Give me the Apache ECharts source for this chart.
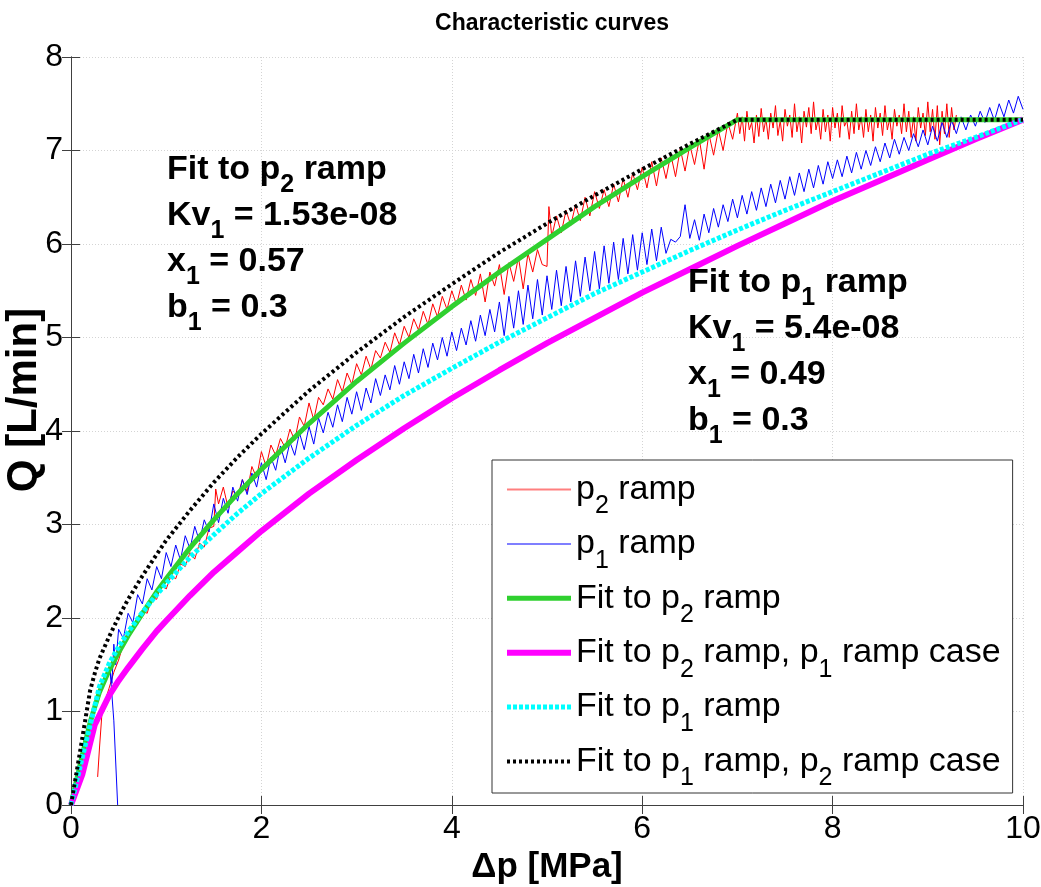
<!DOCTYPE html>
<html>
<head>
<meta charset="utf-8">
<title>Characteristic curves</title>
<script src="https://cdn.jsdelivr.net/npm/echarts@6/dist/echarts.min.js"></script>
<style>
    html, body { margin: 0; padding: 0; background: #fff; }
    #chart { width: 1041px; height: 887px; }
</style>
</head>
<body>
<div id="chart"></div>
<script>
    // measured p2 ramp (red), rising part
    var p2RampDp = [0.28,0.30,0.33,0.36,0.40,0.45,0.50,0.55,0.60,0.65,0.70,0.75,0.80,0.85,0.90,0.95,1.00,1.05,1.10,1.15,1.20,1.25,1.30,1.35,1.40,1.45,1.50,1.52,1.55,1.60,1.65,1.70,1.75,1.80,1.85,1.90,1.95,2.00,2.05,2.10,2.15,2.20,2.25,2.30,2.35,2.40,2.45,2.50,2.55,2.60,2.65,2.70,2.75,2.80,2.85,2.90,2.95,3.00,3.05,3.10,3.15,3.20,3.25,3.30,3.35,3.40,3.45,3.50,3.55,3.60,3.65,3.70,3.75,3.80,3.85,3.90,3.95,4.00,4.05,4.10,4.15,4.20,4.25,4.30,4.35,4.40,4.45,4.50,4.55,4.60,4.65,4.70,4.75,4.80,4.85,4.90,4.95,5.00,5.02,5.05,5.10,5.15,5.20,5.25,5.30,5.35,5.40,5.45,5.50,5.55,5.60,5.65,5.70,5.75,5.80,5.85,5.90,5.95,6.00,6.05,6.10,6.15,6.20,6.25,6.30,6.35,6.40,6.45,6.50,6.55,6.60,6.65,6.70,6.75,6.80,6.85,6.90,6.95];
    var p2RampQ = [0.30,0.62,1.05,1.12,1.25,1.42,1.55,1.72,1.80,1.92,1.93,2.08,2.05,2.22,2.20,2.36,2.31,2.45,2.42,2.58,2.55,2.70,2.63,2.80,2.76,2.96,2.98,3.38,3.22,3.40,3.18,3.36,3.30,3.48,3.35,3.62,3.50,3.78,3.62,3.85,3.74,3.92,3.82,4.02,3.90,4.15,4.05,4.30,4.12,4.36,4.28,4.45,4.34,4.55,4.42,4.62,4.50,4.72,4.60,4.80,4.66,4.86,4.78,4.95,4.84,5.05,4.92,5.12,5.00,5.20,5.08,5.28,5.14,5.36,5.22,5.44,5.30,5.50,5.35,5.56,5.40,5.62,5.45,5.68,5.38,5.70,5.55,5.78,5.46,5.80,5.60,5.86,5.52,5.90,5.70,5.94,5.78,5.76,6.40,6.08,6.30,6.12,6.36,6.20,6.42,6.25,6.50,6.30,6.56,6.38,6.58,6.40,6.64,6.45,6.70,6.50,6.76,6.58,6.82,6.60,6.88,6.62,6.92,6.70,6.96,6.72,7.02,6.78,7.06,6.85,7.12,6.80,7.18,6.95,7.22,7.00,7.30,7.12];

    // measured p2 ramp (red), saturated part
    var p2PlateauDp = [7.000,7.025,7.050,7.075,7.100,7.125,7.150,7.175,7.200,7.225,7.250,7.275,7.300,7.325,7.350,7.375,7.400,7.425,7.450,7.475,7.500,7.525,7.550,7.575,7.600,7.625,7.650,7.675,7.700,7.725,7.750,7.775,7.800,7.825,7.850,7.875,7.900,7.925,7.950,7.975,8.000,8.025,8.050,8.075,8.100,8.125,8.150,8.175,8.200,8.225,8.250,8.275,8.300,8.325,8.350,8.375,8.400,8.425,8.450,8.475,8.500,8.525,8.550,8.575,8.600,8.625,8.650,8.675,8.700,8.725,8.750,8.775,8.800,8.825,8.850,8.875,8.900,8.925,8.950,8.975,9.000,9.025,9.050,9.075,9.100,9.125,9.150,9.175,9.200,9.225,9.250,9.275,9.300];
    var p2PlateauQ = [7.40,7.18,7.36,7.10,7.42,7.22,7.30,7.08,7.38,7.15,7.45,7.20,7.34,7.12,7.40,7.24,7.48,7.16,7.32,7.10,7.44,7.26,7.38,7.14,7.50,7.20,7.36,7.08,7.42,7.25,7.46,7.18,7.52,7.22,7.34,7.12,7.44,7.20,7.38,7.10,7.46,7.24,7.40,7.14,7.48,7.26,7.32,7.12,7.42,7.18,7.50,7.22,7.36,7.14,7.44,7.20,7.38,7.10,7.46,7.24,7.40,7.16,7.48,7.22,7.34,7.12,7.44,7.26,7.38,7.18,7.50,7.20,7.42,7.14,7.36,7.10,7.46,7.24,7.40,7.16,7.52,7.20,7.44,7.12,7.48,7.06,7.42,7.18,7.50,7.14,7.46,7.22,7.38];

    // measured p1 ramp (blue)
    var p1RampDp = [0.49,0.45,0.41,0.43,0.45,0.47,0.50,0.55,0.60,0.65,0.70,0.75,0.80,0.85,0.90,0.95,1.00,1.05,1.10,1.15,1.20,1.25,1.30,1.35,1.40,1.45,1.50,1.55,1.60,1.65,1.70,1.75,1.80,1.85,1.90,1.95,2.00,2.05,2.10,2.15,2.20,2.25,2.30,2.35,2.40,2.45,2.50,2.55,2.60,2.65,2.70,2.75,2.80,2.85,2.90,2.95,3.00,3.05,3.10,3.15,3.20,3.25,3.30,3.35,3.40,3.45,3.50,3.55,3.60,3.65,3.70,3.75,3.80,3.85,3.90,3.95,4.00,4.05,4.10,4.15,4.20,4.25,4.30,4.35,4.40,4.45,4.50,4.55,4.60,4.65,4.70,4.75,4.80,4.85,4.90,4.95,5.00,5.05,5.10,5.15,5.20,5.25,5.30,5.35,5.40,5.45,5.50,5.55,5.60,5.65,5.70,5.75,5.80,5.85,5.90,5.95,6.00,6.05,6.10,6.15,6.20,6.25,6.30,6.35,6.40,6.45,6.50,6.55,6.60,6.65,6.70,6.75,6.80,6.85,6.90,6.95,7.00,7.05,7.10,7.15,7.20,7.25,7.30,7.35,7.40,7.45,7.50,7.55,7.60,7.65,7.70,7.75,7.80,7.85,7.90,7.95,8.00,8.05,8.10,8.15,8.20,8.25,8.30,8.35,8.40,8.45,8.50,8.55,8.60,8.65,8.70,8.75,8.80,8.85,8.90,8.95,9.00,9.05,9.10,9.15,9.20,9.25,9.30,9.35,9.40,9.45,9.50,9.55,9.60,9.65,9.70,9.75,9.80,9.85,9.90,9.95,10.00];
    var p1RampQ = [0.00,0.90,1.45,1.30,1.72,1.50,1.88,1.78,2.05,1.95,2.25,2.15,2.42,2.30,2.55,2.42,2.70,2.55,2.78,2.62,2.88,2.74,2.98,2.82,3.05,2.92,3.22,3.02,3.28,3.12,3.40,3.25,3.48,3.32,3.55,3.40,3.66,3.48,3.72,3.58,3.84,3.66,3.88,3.74,3.98,3.80,4.05,3.86,4.14,3.98,4.20,4.04,4.28,4.10,4.36,4.18,4.42,4.22,4.46,4.30,4.56,4.38,4.60,4.44,4.70,4.50,4.74,4.56,4.82,4.62,4.88,4.68,4.94,4.76,5.00,4.80,5.06,4.86,5.10,4.92,5.18,4.96,5.24,5.02,5.30,5.06,5.38,5.02,5.44,5.10,5.50,5.14,5.56,5.20,5.62,5.24,5.66,5.30,5.72,5.34,5.76,5.38,5.82,5.44,5.86,5.50,5.92,5.52,5.98,5.58,6.02,5.62,6.06,5.68,6.10,5.72,6.12,5.78,6.16,5.82,6.18,5.90,6.05,6.02,6.08,6.42,6.06,6.26,6.04,6.32,6.12,6.38,6.18,6.42,6.24,6.48,6.28,6.52,6.32,6.56,6.36,6.60,6.40,6.64,6.44,6.68,6.48,6.72,6.52,6.76,6.56,6.80,6.60,6.84,6.64,6.88,6.70,6.90,6.72,6.94,6.76,6.98,6.80,7.00,6.84,7.04,6.88,7.08,6.92,7.12,6.96,7.14,7.00,7.18,7.04,7.22,7.06,7.26,7.10,7.30,7.14,7.32,7.18,7.36,7.22,7.38,7.26,7.42,7.30,7.46,7.32,7.50,7.36,7.54,7.40,7.58,7.44];

    // fit to p2 ramp (green)
    var fitP2Dp = [0,0.1,0.2,0.25,0.3,0.4,0.5,0.6,0.75,0.9,1,1.25,1.5,1.75,2,2.5,3,3.5,4,4.5,5,5.5,6,6.5,7,8,9,10];
    var fitP2Q  = [0,0.45,0.88,1.05,1.21,1.44,1.63,1.81,2.05,2.28,2.42,2.75,3.05,3.33,3.59,4.08,4.53,4.94,5.33,5.70,6.05,6.40,6.72,7.03,7.33,7.33,7.33,7.33];

    // fit to p2 ramp, p1 ramp case (magenta)
    var fitP2CaseP1Dp = [0,0.12,0.25,0.4,0.5,0.6,0.75,0.9,1,1.25,1.5,1.75,2,2.5,3,3.5,4,4.5,5,5.5,6,6.5,7,7.5,8,8.5,9,9.5,10];
    var fitP2CaseP1Q  = [0,0.33,0.86,1.17,1.33,1.47,1.67,1.86,1.97,2.24,2.49,2.71,2.93,3.33,3.69,4.03,4.35,4.65,4.94,5.21,5.48,5.73,5.98,6.22,6.46,6.68,6.90,7.12,7.33];

    // fit to p1 ramp (cyan)
    var fitP1Dp = [0,0.1,0.2,0.25,0.3,0.4,0.5,0.6,0.75,0.9,1,1.25,1.5,1.75,2,2.5,3,3.5,4,4.5,5,5.5,6,6.5,7,7.5,8,8.5,9,9.5,10];
    var fitP1Q  = [0,0.43,0.85,1.06,1.27,1.51,1.69,1.85,2.06,2.25,2.37,2.65,2.89,3.12,3.33,3.71,4.06,4.38,4.67,4.95,5.21,5.47,5.70,5.93,6.15,6.36,6.56,6.76,6.96,7.14,7.33];

    // fit to p1 ramp, p2 ramp case (black dotted)
    var fitP1CaseP2Dp = [0,0.1,0.2,0.25,0.3,0.4,0.5,0.6,0.75,0.9,1,1.25,1.5,1.75,2,2.5,3,3.5,4,4.5,5,5.5,6,6.5,7,8,9,10];
    var fitP1CaseP2Q  = [0,0.6,1.22,1.41,1.57,1.80,2.01,2.20,2.45,2.68,2.83,3.15,3.45,3.72,3.97,4.43,4.84,5.22,5.57,5.91,6.22,6.52,6.80,7.07,7.33,7.33,7.33,7.33];

    var xTicks = [0, 2, 4, 6, 8, 10];
    var yTicks = [0, 1, 2, 3, 4, 5, 6, 7, 8];

    function zip(xs, ys) {
        return xs.map(function (x, i) { return [x, ys[i]]; });
    }

    var FONT = 'Arial, "Liberation Sans", Helvetica, sans-serif';
    var AXIS_GRAY = '#404040';
    // thin horizontal bar used as legend sample for the raw measurement traces
    var THIN_LINE_ICON = 'path://M0,0L64,0L64,2L0,2Z';

    var chart = echarts.init(document.getElementById('chart'), null, { renderer: 'canvas' });

    function lineSeries(name, data, color, width, dash, z) {
        return {
            name: name, type: 'line', data: data,
            showSymbol: false, symbol: 'none', color: color,
            lineStyle: { color: color, width: width, type: dash || 'solid' },
            z: z
        };
    }

    var series = [
        lineSeries('p2 ramp', zip(p2RampDp, p2RampQ).concat(zip(p2PlateauDp, p2PlateauQ)), '#ff0000', 1, null, 2),
        lineSeries('p1 ramp', zip(p1RampDp, p1RampQ), '#0000ff', 1, null, 3),
        lineSeries('Fit to p2 ramp', zip(fitP2Dp, fitP2Q), '#2fd02f', 5, null, 4),
        lineSeries('Fit to p2 ramp, p1 ramp case', zip(fitP2CaseP1Dp, fitP2CaseP1Q), '#ff00ff', 6, null, 5),
        lineSeries('Fit to p1 ramp', zip(fitP1Dp, fitP1Q), '#00ffff', 5, [4, 2], 6),
        lineSeries('Fit to p1 ramp, p2 ramp case', zip(fitP1CaseP2Dp, fitP1CaseP2Q), '#000000', 4, [3, 3], 7)
    ];

    // legend entries carry their own look so the samples match the curves
    var legendData = series.map(function (s) {
        if (s.lineStyle.width === 1) {
            return {
                name: s.name,
                icon: THIN_LINE_ICON,
                itemStyle: { color: s.lineStyle.color, opacity: 0.5, borderWidth: 0 }
            };
        }
        return {
            name: s.name,
            itemStyle: { opacity: 0 },
            lineStyle: { color: s.lineStyle.color, width: s.lineStyle.width, type: s.lineStyle.type }
        };
    });

    var option = {
        animation: false,
        backgroundColor: '#fff',
        title: {
            text: 'Characteristic curves',
            left: 547,
            textAlign: 'center',
            top: 7,
            textStyle: { fontFamily: FONT, fontSize: 23, fontWeight: 'bold', color: '#000' }
        },
        grid: { left: 71, right: 18, top: 57, bottom: 82, outerBoundsMode: 'none' },
        legend: {
            data: legendData,
            orient: 'vertical',
            left: 492,
            top: 460,
            padding: [0, 12, 2, 12],
            itemGap: -4.6,
            itemWidth: 64,
            itemHeight: 14,
            symbolKeepAspect: true,
            selectedMode: false,
            backgroundColor: '#fff',
            borderColor: '#333',
            borderWidth: 1,
            borderRadius: 0,
            textStyle: {
                fontFamily: FONT, fontSize: 34, color: '#000', lineHeight: 38,
                rich: {
                    s: { fontFamily: FONT, fontSize: 25, color: '#000', padding: [34, 0, 0, 0], lineHeight: 38 }
                }
            },
            formatter: function (name) {
                return name.replace(/p([12])/g, 'p{s|$1}');
            }
        },
        xAxis: [{
            type: 'value', min: 0, max: 10, interval: 2,
            name: 'Δp [MPa]', nameLocation: 'middle', nameGap: 44,
            nameTextStyle: { fontFamily: FONT, fontSize: 35, fontWeight: 'bold', color: '#000' },
            axisLine: { show: true, lineStyle: { color: AXIS_GRAY, width: 1 } },
            axisTick: { inside: true, length: 9, lineStyle: { color: AXIS_GRAY } },
            axisLabel: {
                fontFamily: FONT, fontSize: 32, color: '#000', margin: 8,
                formatter: function (v) { return xTicks.indexOf(v) >= 0 ? String(v) : ''; }
            },
            splitLine: { show: true, lineStyle: { color: '#d4d4d4', type: [1, 2], width: 1 } }
        }, {
            type: 'value', min: 0, max: 10, interval: 2, position: 'top',
            axisLine: { show: true, lineStyle: { color: AXIS_GRAY, width: 1 } },
            axisTick: { inside: true, length: 9, lineStyle: { color: AXIS_GRAY } },
            axisLabel: { show: false },
            splitLine: { show: false }
        }],
        yAxis: [{
            type: 'value', min: 0, max: 8, interval: 1,
            axisLine: { show: true, lineStyle: { color: AXIS_GRAY, width: 1 } },
            axisTick: { inside: true, length: 9, lineStyle: { color: AXIS_GRAY } },
            axisLabel: {
                fontFamily: FONT, fontSize: 32, color: '#000', margin: 8,
                formatter: function (v) { return yTicks.indexOf(v) >= 0 ? String(v) : ''; }
            },
            splitLine: { show: true, lineStyle: { color: '#d4d4d4', type: [1, 2], width: 1 } }
        }, {
            type: 'value', min: 0, max: 8, interval: 1, position: 'right',
            axisLine: { show: true, lineStyle: { color: AXIS_GRAY, width: 1 } },
            axisTick: { inside: true, length: 9, lineStyle: { color: AXIS_GRAY } },
            axisLabel: { show: false },
            splitLine: { show: false }
        }],
        series: series,
        graphic: [{
            // y axis title, placed a little above the axis middle as in the original
            type: 'text', x: 24, y: 400, rotation: Math.PI / 2, z: 100,
            style: {
                text: 'Q [L/min]', fill: '#000', font: 'bold 42px ' + FONT,
                align: 'center', verticalAlign: 'middle'
            }
        }, {
            type: 'text', left: 167, top: 141, z: 100,
            style: {
                text: 'Fit to p{s|2} ramp\nKv{s|1} = 1.53e-08\nx{s|1} = 0.57\nb{s|1} = 0.3',
                fill: '#000', font: 'bold 34px ' + FONT, lineHeight: 46,
                rich: { s: { fill: '#000', font: 'bold 25px ' + FONT, padding: [32, 0, 0, 0], lineHeight: 46 } }
            }
        }, {
            type: 'text', left: 688, top: 254, z: 100,
            style: {
                text: 'Fit to p{s|1} ramp\nKv{s|1} = 5.4e-08\nx{s|1} = 0.49\nb{s|1} = 0.3',
                fill: '#000', font: 'bold 34px ' + FONT, lineHeight: 46,
                rich: { s: { fill: '#000', font: 'bold 25px ' + FONT, padding: [32, 0, 0, 0], lineHeight: 46 } }
            }
        }]
    };

    chart.setOption(option);
</script>
</body>
</html>
